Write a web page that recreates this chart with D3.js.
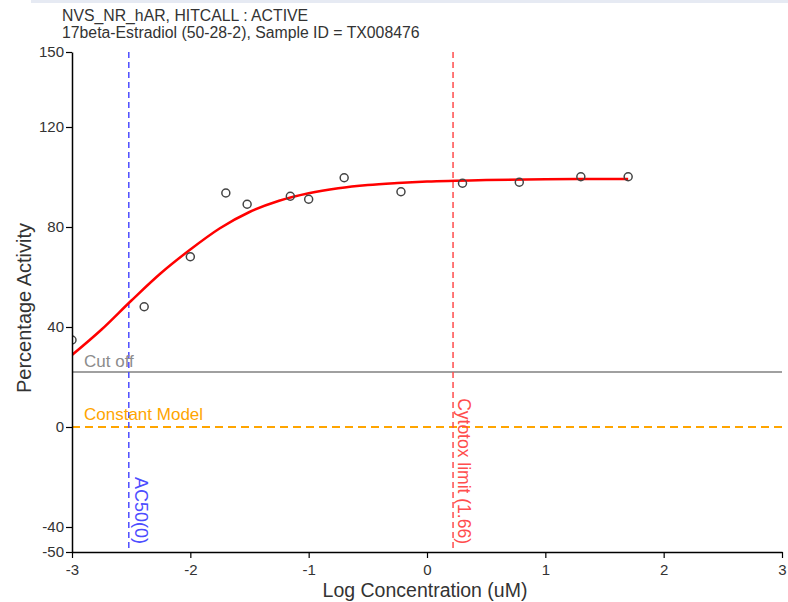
<!DOCTYPE html>
<html>
<head>
<meta charset="utf-8">
<script src="https://cdnjs.cloudflare.com/ajax/libs/d3/7.8.5/d3.min.js"></script>
<style>
  body { margin: 0; background: #fff; }
  svg { display: block; font-family: "Liberation Sans", Arial, sans-serif; }
</style>
</head>
<body>
<div id="chart"></div>
<script>
// observed responses (log uM, % activity)
var logConc = [-3.0, -2.39, -2.0, -1.7, -1.52, -1.155, -1.0, -0.7, -0.22, 0.3, 0.78, 1.3, 1.7];
var activity = [34.8, 48.1, 68.1, 93.6, 89.1, 92.3, 91.1, 99.7, 94.1, 97.5, 97.9, 100.1, 100.1];

// fitted curve
var curveX = [-3, -2.75, -2.5, -2.25, -2, -1.75, -1.5, -1.25, -1, -0.75, -0.5, -0.25, 0, 0.5, 1, 1.7];
var curveY = [28.8, 39, 50.5, 61.5, 71, 79.5, 86, 90.5, 93.5, 95.5, 96.8, 97.6, 98.2, 98.8, 99.1, 99.2];

var xTicks = [-3, -2, -1, 0, 1, 2, 3];
var yTicks = [-50, -40, 0, 40, 80, 120, 150];

var cutOff = 22;
var constantModel = 0;
var ac50 = -2.52;
var cytotox = 1.66;

var titleLines = ["NVS_NR_hAR, HITCALL : ACTIVE", "17beta-Estradiol (50-28-2), Sample ID = TX008476"];

var W = 788, H = 602;
var margin = {top: 52, right: 6, bottom: 50, left: 72};

var svg = d3.select("#chart").append("svg")
    .attr("width", W)
    .attr("height", H);

// faint strip along the top
svg.append("rect")
    .attr("x", 31).attr("y", 0)
    .attr("width", W - 31).attr("height", 3)
    .attr("fill", "#e6eaf3");

var x = d3.scaleLinear().domain([-3, 3]).range([margin.left, W - margin.right]);
var y = d3.scaleLinear().domain([-50, 150]).range([H - margin.bottom, margin.top]);

svg.append("defs").append("clipPath")
    .attr("id", "plotclip")
    .append("rect")
    .attr("x", margin.left).attr("y", margin.top)
    .attr("width", x.range()[1] - margin.left)
    .attr("height", y.range()[0] - margin.top);

// title
svg.selectAll("text.title")
    .data(titleLines)
    .enter().append("text")
    .attr("class", "title")
    .attr("x", 62)
    .attr("y", function (d, i) { return 21 + i * 17; })
    .attr("font-size", 15.8)
    .attr("fill", "#333")
    .text(function (d) { return d; });

var plot = svg.append("g").attr("clip-path", "url(#plotclip)");

// cut off
plot.append("line")
    .attr("x1", x(-3)).attr("x2", x(3))
    .attr("y1", y(cutOff)).attr("y2", y(cutOff))
    .attr("stroke", "#808080").attr("stroke-width", 1.5);
svg.append("text")
    .attr("x", 84).attr("y", y(cutOff) - 5)
    .attr("font-size", 17).attr("fill", "#8c8c8c")
    .text("Cut off");

// constant model
plot.append("line")
    .attr("x1", x(-3)).attr("x2", x(3))
    .attr("y1", y(constantModel)).attr("y2", y(constantModel))
    .attr("stroke", "#ffa500").attr("stroke-width", 2)
    .attr("stroke-dasharray", "8,5");
svg.append("text")
    .attr("x", 84).attr("y", y(constantModel) - 7)
    .attr("font-size", 17).attr("fill", "#ffa500")
    .text("Constant Model");

// AC50 marker
plot.append("line")
    .attr("x1", x(ac50)).attr("x2", x(ac50))
    .attr("y1", y(150)).attr("y2", y(-50))
    .attr("stroke", "#4d4dff").attr("stroke-width", 1.5)
    .attr("stroke-dasharray", "6,4");
svg.append("text")
    .attr("transform", "translate(" + (x(ac50) + 6) + "," + (y(-50) - 8) + ") rotate(90)")
    .attr("text-anchor", "end")
    .attr("font-size", 18).attr("fill", "#4d4dff")
    .text("AC50(0)");

// cytotox marker
var cx = x(Math.log10(cytotox));
plot.append("line")
    .attr("x1", cx).attr("x2", cx)
    .attr("y1", y(150)).attr("y2", y(-50))
    .attr("stroke", "#ff4d4d").attr("stroke-width", 1.5)
    .attr("stroke-dasharray", "6,4");
svg.append("text")
    .attr("transform", "translate(" + (cx + 5) + "," + (y(-50) - 8) + ") rotate(90)")
    .attr("text-anchor", "end")
    .attr("font-size", 17.5).attr("fill", "#ff4d4d")
    .text("Cytotox limit (1.66)");

// fitted curve
var fit = d3.line()
    .x(function (d, i) { return x(d); })
    .y(function (d, i) { return y(curveY[i]); })
    .curve(d3.curveMonotoneX);
plot.append("path")
    .datum(curveX)
    .attr("d", fit)
    .attr("fill", "none")
    .attr("stroke", "#ff0000")
    .attr("stroke-width", 2.5);

// points
plot.selectAll("circle.pt")
    .data(logConc)
    .enter().append("circle")
    .attr("class", "pt")
    .attr("cx", function (d) { return x(d); })
    .attr("cy", function (d, i) { return y(activity[i]); })
    .attr("r", 4)
    .attr("fill", "none")
    .attr("stroke", "#444")
    .attr("stroke-width", 1.5);

// axes
var fmt = function (d) { return String(d); };
var xAxis = svg.append("g")
    .attr("transform", "translate(0," + y(-50) + ")")
    .call(d3.axisBottom(x).tickValues(xTicks).tickFormat(fmt).tickSizeOuter(0));
var yAxis = svg.append("g")
    .attr("transform", "translate(" + margin.left + ",0)")
    .call(d3.axisLeft(y).tickValues(yTicks).tickFormat(fmt).tickSizeOuter(0));

[xAxis, yAxis].forEach(function (g) {
    g.select(".domain").attr("stroke", "#000").attr("stroke-width", 1.5);
    g.selectAll(".tick line").attr("stroke", "#000").attr("stroke-width", 1.2);
    g.selectAll(".tick text")
        .attr("font-size", 15)
        .attr("font-family", "Liberation Sans, Arial, sans-serif")
        .attr("fill", "#333");
});
xAxis.selectAll(".tick text").attr("dy", "0.95em");
yAxis.selectAll(".tick text").attr("x", -8);

svg.append("text")
    .attr("x", (x.range()[0] + x.range()[1]) / 2 - 2)
    .attr("y", 597)
    .attr("text-anchor", "middle")
    .attr("font-size", 19.5).attr("fill", "#333")
    .text("Log Concentration (uM)");

svg.append("text")
    .attr("transform", "translate(31," + ((y.range()[0] + y.range()[1]) / 2 + 6) + ") rotate(-90)")
    .attr("text-anchor", "middle")
    .attr("font-size", 20).attr("fill", "#333")
    .text("Percentage Activity");
</script>
</body>
</html>
